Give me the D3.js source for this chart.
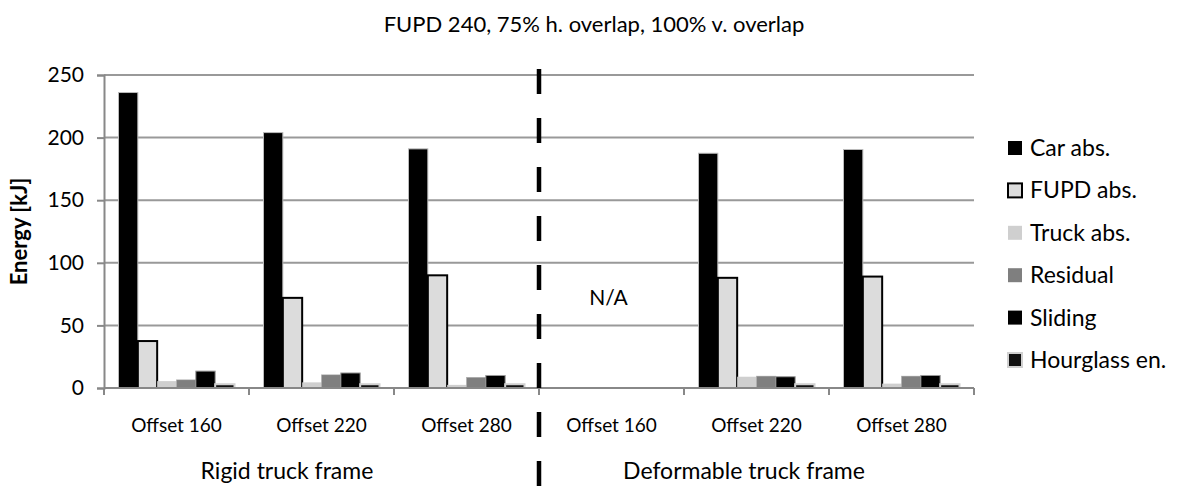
<html>
  <head>
    <meta charset="utf-8">
    <script src="https://d3js.org/d3.v7.min.js"></script>
    <style>
      body { margin: 0; background: #fff; }
      svg { font-family: Lato, "Liberation Sans", sans-serif; }
    </style>
  </head>
  <body>
    <div id="chart"></div>
  </body>

  <script>
    // chart data
    const offsets = ["Offset 160", "Offset 220", "Offset 280"]
    const frames = ["Rigid truck frame", "Deformable truck frame"]
    const seriesNames = ["Car abs.", "FUPD abs.", "Truck abs.", "Residual", "Sliding", "Hourglass en."]
    // one value per category: rigid 160/220/280, deformable 160/220/280 (null = N/A)
    const carAbs    = [236, 204, 191, null, 187.5, 190.5]
    const fupdAbs   = [37.5, 72, 90, null, 88, 89]
    const truckAbs  = [5.5, 4.5, 2.5, null, 9, 3.5]
    const residual  = [6.5, 10.5, 8.5, null, 9.5, 9.5]
    const sliding   = [13.5, 12, 10, null, 9, 10]
    const hourglass = [3, 3, 3, null, 3, 3]
    const yTicks = [0, 50, 100, 150, 200, 250]

    const values = [carAbs, fupdAbs, truckAbs, residual, sliding, hourglass]
    const categories = []
    frames.forEach((f, i) => offsets.forEach(o => categories.push(i + "|" + o)))

    const styles = [
      {fill: "#000", stroke: "#bbb", sw: 1},
      {fill: "#dcdcdc", stroke: "#000", sw: 2},
      {fill: "#cfcfcf", stroke: "none", sw: 0},
      {fill: "#7f7f7f", stroke: "#aaa", sw: 0.5},
      {fill: "#000", stroke: "#999", sw: 1},
      {fill: "#111", stroke: "#d0d0d0", sw: 2}
    ]

    const W = 1187, H = 488
    const plot = {left: 104, right: 974, top: 75, bottom: 388}

    const svg = d3.select("#chart").append("svg")
      .attr("width", W).attr("height", H)

    const x = d3.scaleBand().domain(categories).range([plot.left, plot.right])
    const bw = x.bandwidth()
    const xs = d3.scaleBand().domain(seriesNames).range([bw * 0.1, bw * 0.9])
    const y = d3.scaleLinear().domain([0, 250]).range([plot.bottom, plot.top])

    // title
    svg.append("text")
      .attr("x", 594).attr("y", 32)
      .attr("text-anchor", "middle")
      .style("font-size", "22px")
      .text("FUPD 240, 75% h. overlap, 100% v. overlap")

    // gridlines
    svg.append("g").selectAll("line")
      .data(yTicks.filter(d => d > 0))
      .join("line")
        .attr("x1", plot.left).attr("x2", plot.right)
        .attr("y1", d => y(d)).attr("y2", d => y(d))
        .attr("stroke", "#999").attr("stroke-width", 2)

    // y axis
    const yAxis = svg.append("g")
      .attr("transform", `translate(${plot.left},0)`)
      .call(d3.axisLeft(y).tickValues(yTicks).tickSize(7).tickPadding(13))
    yAxis.select(".domain").attr("stroke", "#888").attr("stroke-width", 2)
    yAxis.selectAll(".tick line").attr("stroke", "#888").attr("stroke-width", 2)
    yAxis.selectAll(".tick text")
      .style("font-size", "21px").style("font-family", "Lato, sans-serif").attr("fill", "#000")

    svg.append("text")
      .attr("transform", `translate(27,${(plot.top + plot.bottom) / 2}) rotate(-90)`)
      .attr("text-anchor", "middle")
      .style("font-size", "22px").style("font-weight", "bold")
      .text("Energy [kJ]")

    // bars
    const bars = svg.append("g")
    values.forEach((vals, si) => {
      bars.append("g").selectAll("rect")
        .data(vals.map((v, ci) => ({v: v, c: categories[ci]})).filter(d => d.v != null))
        .join("rect")
          .attr("x", d => x(d.c) + xs(seriesNames[si]))
          .attr("y", d => y(d.v))
          .attr("width", xs.bandwidth())
          .attr("height", d => y(0) - y(d.v))
          .attr("fill", styles[si].fill)
          .attr("stroke", styles[si].stroke)
          .attr("stroke-width", styles[si].sw)
    })

    // x axis
    svg.append("line")
      .attr("x1", plot.left).attr("x2", plot.right)
      .attr("y1", plot.bottom).attr("y2", plot.bottom)
      .attr("stroke", "#888").attr("stroke-width", 2)
    svg.append("g").selectAll("line")
      .data(categories.concat(["end"]))
      .join("line")
        .attr("x1", (d, i) => plot.left + i * bw).attr("x2", (d, i) => plot.left + i * bw)
        .attr("y1", plot.bottom).attr("y2", plot.bottom + 7)
        .attr("stroke", "#888").attr("stroke-width", 2)

    svg.append("g").selectAll("text")
      .data(categories)
      .join("text")
        .attr("x", d => x(d) + bw / 2)
        .attr("y", 432)
        .attr("text-anchor", "middle")
        .style("font-size", "19px")
        .text(d => d.split("|")[1])

    const frameX = [287, 744]
    svg.append("g").selectAll("text")
      .data(frames)
      .join("text")
        .attr("x", (d, i) => frameX[i])
        .attr("y", 479)
        .attr("text-anchor", "middle")
        .style("font-size", "23px")
        .text(d => d)

    // dashed separator between rigid and deformable
    const sepX = x(categories[3])
    svg.append("line")
      .attr("x1", sepX).attr("x2", sepX)
      .attr("y1", 69).attr("y2", H)
      .attr("stroke", "#000").attr("stroke-width", 4.5)
      .attr("stroke-dasharray", "25,24")

    svg.append("text")
      .attr("x", x(categories[3]) + bw / 2 - 3)
      .attr("y", 305)
      .attr("text-anchor", "middle")
      .style("font-size", "21px")
      .text("N/A")

    // legend
    const legend = svg.append("g").selectAll("g")
      .data(seriesNames)
      .join("g")
        .attr("transform", (d, i) => `translate(1008,${148 + i * 42.4})`)
    legend.append("rect")
      .attr("x", 0).attr("y", -7)
      .attr("width", 14).attr("height", 14)
      .attr("fill", (d, i) => styles[i].fill)
      .attr("stroke", (d, i) => i == 1 ? "#000" : (i == 5 ? "#d0d0d0" : "none"))
      .attr("stroke-width", (d, i) => i == 1 || i == 5 ? 2 : 0)
    legend.append("text")
      .attr("x", 22).attr("y", 8)
      .style("font-size", "23px")
      .text(d => d)
  </script>
</html>
